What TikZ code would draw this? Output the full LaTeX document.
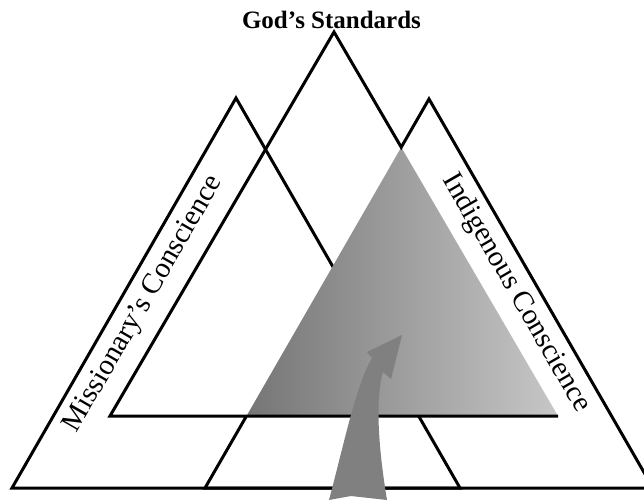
\documentclass[tikz,border=0pt]{standalone}
\usepackage{fontspec}
\setmainfont{Liberation Serif}
\begin{document}
\begin{tikzpicture}[x=1pt,y=-1pt,line join=miter,
  tri/.style={draw=black,line width=3pt},
  lbl/.style={font=\fontsize{29}{30}\selectfont,inner sep=0pt},
  ttl/.style={font=\fontsize{25}{27}\selectfont\bfseries,inner sep=0pt,anchor=base},
  arr/.style={fill=black!50}]
\useasboundingbox (0,0) rectangle (644,500);
\clip (0,0) rectangle (644,500);
% vertices
\coordinate (cA) at (334,32);
\coordinate (cL) at (110,416);
\coordinate (cR) at (558,416);
\coordinate (lA) at (236,98);
\coordinate (lL) at (12,488);
\coordinate (lR) at (460,488);
\coordinate (rA) at (429,99);
\coordinate (rL) at (205,488);
\coordinate (rR) at (653,488);
\coordinate (gA) at (intersection of cA--cR and rA--rL);
\coordinate (gL) at (intersection of cL--cR and rA--rL);
% left triangle (under the shading)
\draw[tri] (lA) -- (lR) -- (lL) -- cycle;
% shaded overlap
\shade[left color=black!54,right color=black!22] (gA) -- (gL) -- (cR) -- cycle;
% centre and right triangles
\draw[tri] (cR) -- (cL) -- (cA) -- (gA) -- (rA) -- (rR) -- (rL) -- (gL);
% arrow
\fill[arr] (329,500) .. controls (345,440) and (356,385) .. (372,358) -- (367,352) -- (402,335) -- (391,379) -- (383,372) .. controls (376,395) and (377,440) .. (387,500) -- (351,496) -- cycle;
% labels
\node[ttl] (gs) at (331.5,28.5) {God’s Standards};
\node[lbl,rotate=60] (mc) at (144,304) {Missionary’s Conscience};
\node[lbl,rotate=-60] (ic) at (516,293) {Indigenous Conscience};
\end{tikzpicture}
\end{document}
